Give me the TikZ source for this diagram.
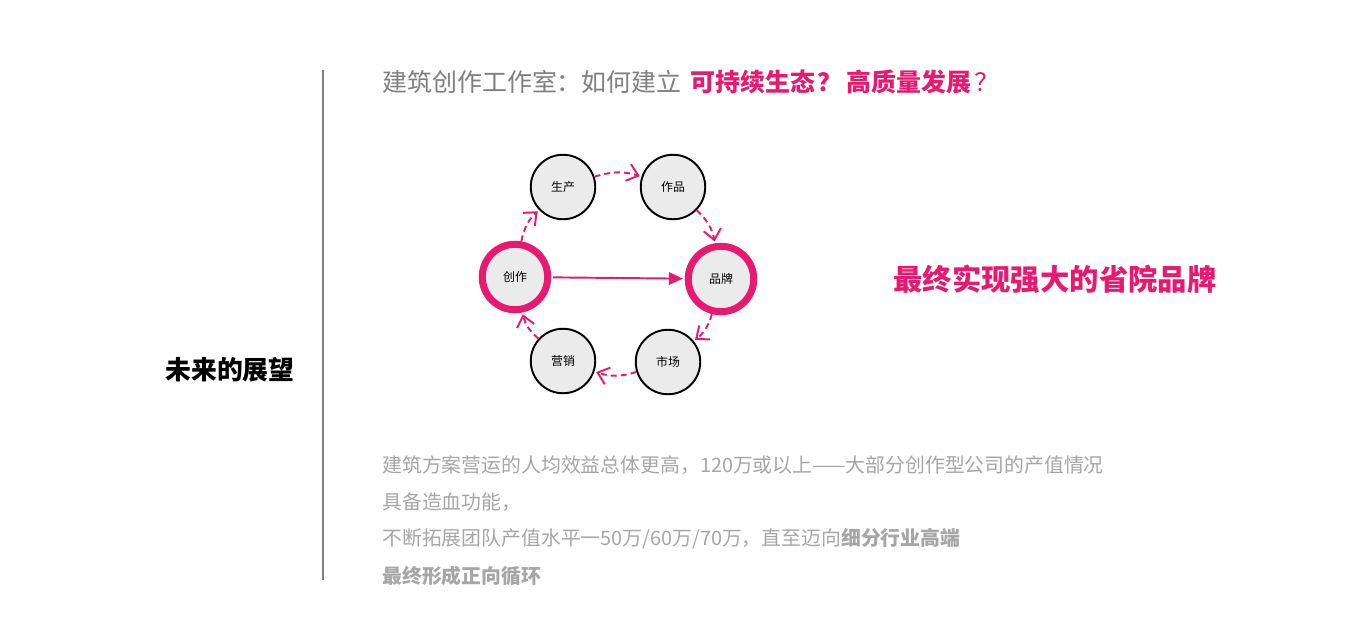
\documentclass[tikz,border=0pt]{standalone}
\usepackage{fontspec}
\setmainfont{Noto Sans CJK SC}
\usetikzlibrary{arrows.meta}
\definecolor{rose}{HTML}{E8196F}
\definecolor{titlegray}{HTML}{7F7F7F}
\definecolor{bodygray}{HTML}{A6A6A6}
\definecolor{discfill}{HTML}{EBEBEB}
\newcommand{\fs}[1]{\fontsize{#1}{#1}\selectfont}
\begin{document}
\begin{tikzpicture}[x=0.02cm,y=-0.02cm,
    disc/.style={inner sep=0mm,circle,draw,fill=discfill,line width=1.1pt,minimum size=1.29cm,font=\fs{6.8}},
    keydisc/.style={disc,draw=rose,line width=4pt,minimum size=1.31cm},
    cycle/.style={draw=rose,line width=1.1pt,dash pattern=on 3.4pt off 2.3pt,-{Straight Barb[length=6pt,width=10pt]},bend left=18,shorten >=1pt},
    body/.style={anchor=west,inner sep=0mm,text=bodygray,font=\fs{11.3}}]
\useasboundingbox (0,0) rectangle (1357,619);
\draw[titlegray,line width=0.9pt] (323,70) -- (323,580);
\node[font=\bfseries\fs{14.7}] (view) at (230,370) {未来的展望};
\node[anchor=west,inner sep=0mm,font=\fs{14.2}] (title) at (382,82) {\textcolor{titlegray}{建筑创作工作室：如何建立}\hspace{0.35em}\textcolor{rose}{\bfseries 可持续生态\kern0.1em？\kern0.15em高质量发展}\textcolor{rose}{\kern0.15em？}};
\foreach \x/\y/\n/\t in {563/187/prod/生产, 673/187/work/作品, 668/362/mkt/市场, 563/361/sale/营销}
    \node[disc] (\n) at (\x,\y) {\t};
\foreach \x/\y/\n/\t in {515/277/crea/创作, 721/279/brand/品牌}
    \node[keydisc] (\n) at (\x,\y) {\t};
\foreach \s/\t in {crea/prod, prod/work, work/brand, brand/mkt, mkt/sale, sale/crea}
    \draw[cycle] (\s) to (\t);
\draw[rose,line width=1.1pt,-{Triangle[length=8pt,width=7pt]},shorten <=1pt,shorten >=1pt] (crea) -- (brand);
\node[text=rose,font=\bfseries\fs{16.7}] (goal) at (1055,279) {最终实现强大的省院品牌};
\node[body] (l1) at (382,465) {建筑方案营运的人均效益总体更高，120万或以上——大部分创作型公司的产值情况};
\node[body] (l2) at (382,502) {具备造血功能，};
\node[body] (l3) at (382,539) {不断拓展团队产值水平一50万/60万/70万，直至迈向\textbf{细分行业高端}};
\node[body] (l4) at (382,576) {\textbf{最终形成正向循环}};
\end{tikzpicture}
\end{document}
